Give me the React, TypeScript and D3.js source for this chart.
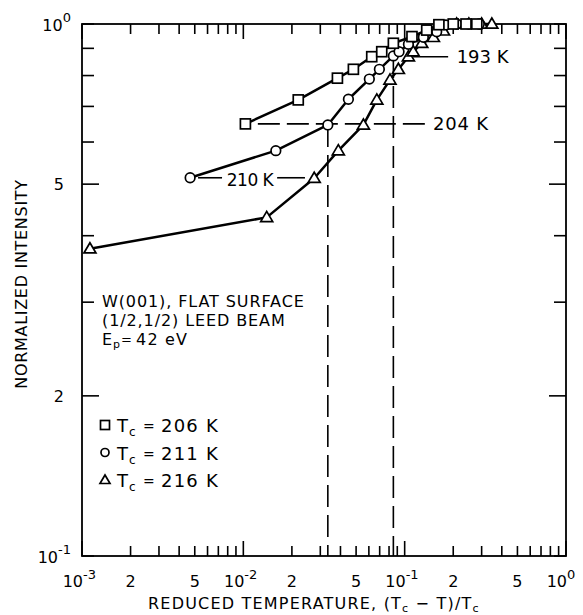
import * as d3 from "d3";

// Tc = 206 K (squares)
const sqX = [0.0103, 0.0219, 0.0383, 0.0481, 0.0625, 0.0721, 0.0851, 0.111, 0.137, 0.163, 0.2, 0.24, 0.28];
const sqY = [0.649, 0.72, 0.791, 0.822, 0.868, 0.887, 0.92, 0.947, 0.974, 0.997, 1.0, 1.0, 1.0];
// Tc = 211 K (circles)
const ciX = [0.00468, 0.0159, 0.0334, 0.0448, 0.0604, 0.0697, 0.0851, 0.0923, 0.1055, 0.1306, 0.158, 0.18, 0.21, 0.25, 0.29];
const ciY = [0.514, 0.578, 0.646, 0.722, 0.788, 0.822, 0.871, 0.887, 0.916, 0.944, 0.967, 0.996, 1.0, 1.0, 1.0];
// Tc = 216 K (triangles)
const trX = [0.00112, 0.01396, 0.0275, 0.0388, 0.0555, 0.0672, 0.0811, 0.0914, 0.1055, 0.113, 0.1276, 0.1507, 0.174, 0.21, 0.25, 0.3, 0.347];
const trY = [0.378, 0.433, 0.513, 0.578, 0.646, 0.72, 0.785, 0.822, 0.868, 0.887, 0.92, 0.944, 0.971, 1.0, 1.0, 1.0, 1.0];

const legendTc = ["206 K", "211 K", "216 K"];

// tick labels
const xTickVals = [1e-3, 2e-3, 5e-3, 1e-2, 2e-2, 5e-2, 1e-1, 2e-1, 5e-1, 1];
const xTickBase = ["10", "2", "5", "10", "2", "5", "10", "2", "5", "10"];
const xTickExp = ["-3", "", "", "-2", "", "", "-1", "", "", "0"];
const yTickVals = [1, 0.5, 0.2, 0.1];
const yTickBase = ["10", "5", "2", "10"];
const yTickExp = ["0", "", "", "-1"];

// isotherm annotations (temperature, intensity level)
const isoT = ["193 K", "204 K", "210 K"];
const isoLevel = [0.868, 0.649, 0.514];
// vertical dashed markers (reduced temperature, top intensity)
const vLineX = [0.0334, 0.0851];
const vLineTop = [0.646, 0.871];

const FONT = "DejaVu Sans";

export default function App() {
  const x = d3.scaleLog().domain([1e-3, 1]).range([82, 566]);
  const y = d3.scaleLog().domain([0.1, 1]).range([556, 24]);
  const line = d3
    .line<[number, number]>()
    .x((d) => x(d[0]))
    .y((d) => y(d[1]));

  const zip = (a: number[], b: number[]) => a.map((v, i) => [v, b[i]] as [number, number]);
  const sq = zip(sqX, sqY);
  const ci = zip(ciX, ciY);
  const tr = zip(trX, trY);

  const square = (cx: number, cy: number, s: number, k: string) => (
    <rect key={k} x={cx - s / 2} y={cy - s / 2} width={s} height={s} fill="#fff" stroke="#000" strokeWidth={1.7} />
  );
  const circle = (cx: number, cy: number, r: number, k: string) => (
    <circle key={k} cx={cx} cy={cy} r={r} fill="#fff" stroke="#000" strokeWidth={1.7} />
  );
  const tri = (cx: number, cy: number, s: number, k: string) => (
    <path
      key={k}
      d={`M${cx},${cy - s * 0.5}L${cx + s * 0.5},${cy + s * 0.35}L${cx - s * 0.5},${cy + s * 0.35}Z`}
      fill="#fff"
      stroke="#000"
      strokeWidth={1.7}
    />
  );

  const xt = x.ticks();
  const yt = y.ticks();
  const isDecade = (v: number) => Math.abs(Math.log10(v) - Math.round(Math.log10(v))) < 1e-6;
  const yLong = (v: number) => Math.abs(v - 0.5) < 1e-6 || Math.abs(v - 0.2) < 1e-6;

  return (
    <svg
      width={583}
      height={615}
      style={{ position: "absolute", left: 0, top: 0, background: "#fff" }}
      fontFamily={FONT}
    >
      <rect x={0} y={0} width={583} height={615} fill="#fff" />

      {/* ticks */}
      {xt.map((v, i) => {
        const len = isDecade(v) ? 15 : 10;
        return (
          <g key={"xt" + i} stroke="#000" strokeWidth={1.6}>
            <line x1={x(v)} x2={x(v)} y1={556} y2={556 - len} />
            <line x1={x(v)} x2={x(v)} y1={24} y2={24 + len} />
          </g>
        );
      })}
      {yt.map((v, i) => {
        const len = yLong(v) ? 17 : 12;
        return (
          <g key={"yt" + i} stroke="#000" strokeWidth={1.6}>
            <line x1={82} x2={82 + len} y1={y(v)} y2={y(v)} />
            <line x1={566} x2={566 - len} y1={y(v)} y2={y(v)} />
          </g>
        );
      })}

      {/* frame */}
      <rect x={82} y={24} width={484} height={532} fill="none" stroke="#000" strokeWidth={1.8} />

      {/* x tick labels */}
      {xTickVals.map((v, i) =>
        xTickExp[i] ? (
          <g key={"xl" + i}>
            <text x={x(v) + 1} y={587} textAnchor="end" fontSize={16}>
              {xTickBase[i]}
            </text>
            <text x={x(v) + 1} y={579} fontSize={13}>
              {xTickExp[i]}
            </text>
          </g>
        ) : (
          <text key={"xl" + i} x={x(v)} y={587} textAnchor="middle" fontSize={16}>
            {xTickBase[i]}
          </text>
        )
      )}

      {/* y tick labels */}
      {yTickVals.map((v, i) =>
        yTickExp[i] ? (
          <text key={"yl" + i} x={71} y={y(v) + 7} textAnchor="end" fontSize={16}>
            {yTickBase[i]}
            <tspan dy={-9} fontSize={13}>
              {yTickExp[i]}
            </tspan>
          </text>
        ) : (
          <text key={"yl" + i} x={64} y={y(v) + 6} textAnchor="end" fontSize={16}>
            {yTickBase[i]}
          </text>
        )
      )}

      {/* axis titles */}
      <text x={148} y={609} fontSize={16} letterSpacing={1.2}>
        REDUCED TEMPERATURE, (T<tspan dy={3} fontSize={11}>c</tspan>
        <tspan dy={-3}> − T)/T</tspan>
        <tspan dy={3} fontSize={11}>c</tspan>
      </text>
      <text transform="translate(27,284) rotate(-90)" textAnchor="middle" fontSize={16} letterSpacing={0.7}>
        NORMALIZED INTENSITY
      </text>

      {/* dashed reference lines */}
      {vLineX.map((v, i) => (
        <line
          key={"vl" + i}
          x1={x(v)}
          x2={x(v)}
          y1={y(vLineTop[i])}
          y2={556}
          stroke="#000"
          strokeWidth={1.6}
          strokeDasharray="22,8"
        />
      ))}
      <line
        x1={x(0.0123)}
        x2={x(0.1337)}
        y1={y(isoLevel[1])}
        y2={y(isoLevel[1])}
        stroke="#000"
        strokeWidth={1.6}
        strokeDasharray="22,7"
      />
      <text x={x(0.15)} y={y(isoLevel[1]) + 6.5} fontSize={18} letterSpacing={0.8}>
        {isoT[1]}
      </text>

      <line x1={x(0.1128)} x2={x(0.186)} y1={y(isoLevel[0])} y2={y(isoLevel[0])} stroke="#000" strokeWidth={1.6} />
      <text x={x(0.21)} y={y(isoLevel[0]) + 6.5} fontSize={18}>
        {isoT[0]}
      </text>

      <line x1={x(0.00524)} x2={x(0.00738)} y1={y(isoLevel[2])} y2={y(isoLevel[2])} stroke="#000" strokeWidth={1.6} />
      <line x1={x(0.0162)} x2={x(0.0241)} y1={y(isoLevel[2])} y2={y(isoLevel[2])} stroke="#000" strokeWidth={1.6} />
      <text x={x(0.011)} y={y(isoLevel[2]) + 8} fontSize={17} textAnchor="middle" letterSpacing={-0.5}>
        {isoT[2]}
      </text>

      {/* data lines */}
      <path d={line(sq) || ""} fill="none" stroke="#000" strokeWidth={2.5} strokeLinejoin="round" />
      <path d={line(ci) || ""} fill="none" stroke="#000" strokeWidth={2.5} strokeLinejoin="round" />
      <path d={line(tr) || ""} fill="none" stroke="#000" strokeWidth={2.5} strokeLinejoin="round" />

      {/* markers */}
      {tr.map((d, i) => tri(x(d[0]), y(d[1]), 12, "tr" + i))}
      {ci.map((d, i) => circle(x(d[0]), y(d[1]), 4.8, "ci" + i))}
      {sq.map((d, i) => square(x(d[0]), y(d[1]), 10, "sq" + i))}

      {/* annotation block */}
      <text x={102} y={307} fontSize={16} letterSpacing={0.9}>
        W(001), FLAT SURFACE
      </text>
      <text x={102} y={326} fontSize={16} letterSpacing={0.9}>
        (1/2,1/2) LEED BEAM
      </text>
      <text x={102} y={345} fontSize={16}>
        E
      </text>
      <text x={113} y={348} fontSize={11}>
        p
      </text>
      <text x={121} y={344} fontSize={13}>
        =
      </text>
      <text x={136} y={345} fontSize={16} letterSpacing={1.2}>
        42 eV
      </text>

      {/* legend */}
      {legendTc.map((t, i) => {
        const cy = 425 + i * 27.5;
        const mk =
          i === 0 ? square(105, cy, 9, "lm" + i) : i === 1 ? circle(105, cy, 4, "lm" + i) : tri(105, cy, 10, "lm" + i);
        return (
          <g key={"lg" + i}>
            {mk}
            <text x={117} y={cy + 7} fontSize={18}>
              T
            </text>
            <text x={129} y={cy + 11} fontSize={12}>
              c
            </text>
            <text x={143} y={cy + 6} fontSize={14}>
              =
            </text>
            <text x={161} y={cy + 7} fontSize={18} letterSpacing={1.2}>
              {t}
            </text>
          </g>
        );
      })}
    </svg>
  );
}
